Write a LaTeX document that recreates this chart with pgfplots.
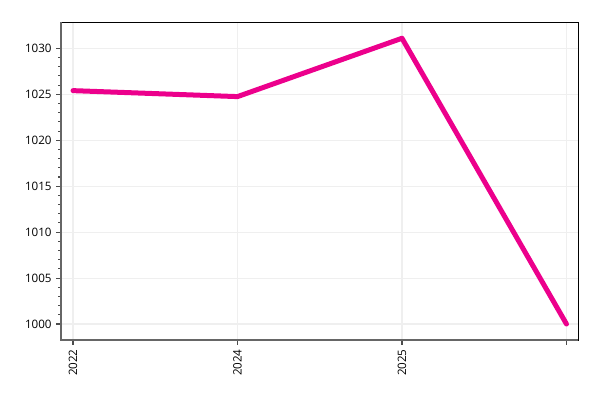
\documentclass[border=0pt]{standalone}
\usepackage{pgfplots}
\pgfplotsset{compat=1.18}
\usepackage{fontspec}
\setmainfont{Open Sans}
\definecolor{linepink}{HTML}{EC008C}
\definecolor{gridgray}{HTML}{EFEFEF}
\begin{document}
\begin{tikzpicture}[x=1pt,y=1pt]
    \useasboundingbox (-45.75,-45) rectangle (404.25,255);
    \begin{axis}[
        at={(0,0)}, anchor=south west,
        scale only axis,
        width=387.75pt, height=238.5pt,
        xmin=-0.073, xmax=3.07,
        ymin=998.26, ymax=1032.87,
        xtick={0,1,2,3},
        xticklabels={2022,2024,2025,{}},
        x tick label style={rotate=90, anchor=east},
        ytick={1000,1005,...,1030},
        minor y tick num=4,
        tick align=outside,
        tick pos=left,
        major tick length=3.5pt,
        minor tick length=2pt,
        tick style={black!70, line width=0.8pt},
        grid=major,
        major grid style={gridgray, line width=0.8pt},
        axis line style={black, line width=0.6pt},
        ticklabel style={font=\fontsize{8.7}{10}\selectfont},
        /pgf/number format/assume math mode=true,
        /pgf/number format/1000 sep={},
        after end axis/.code={
            \draw[black!60, line width=1.3pt] (rel axis cs:0,1) -- (rel axis cs:0,0) -- (rel axis cs:1,0);
        },
    ]
        \addplot[linepink, line width=3.75pt, line join=round, line cap=round] coordinates {
            (0, 1025.4)
            (1, 1024.75)
            (2, 1031.1)
            (3, 1000.0)
        };
    \end{axis}
\end{tikzpicture}
\end{document}
